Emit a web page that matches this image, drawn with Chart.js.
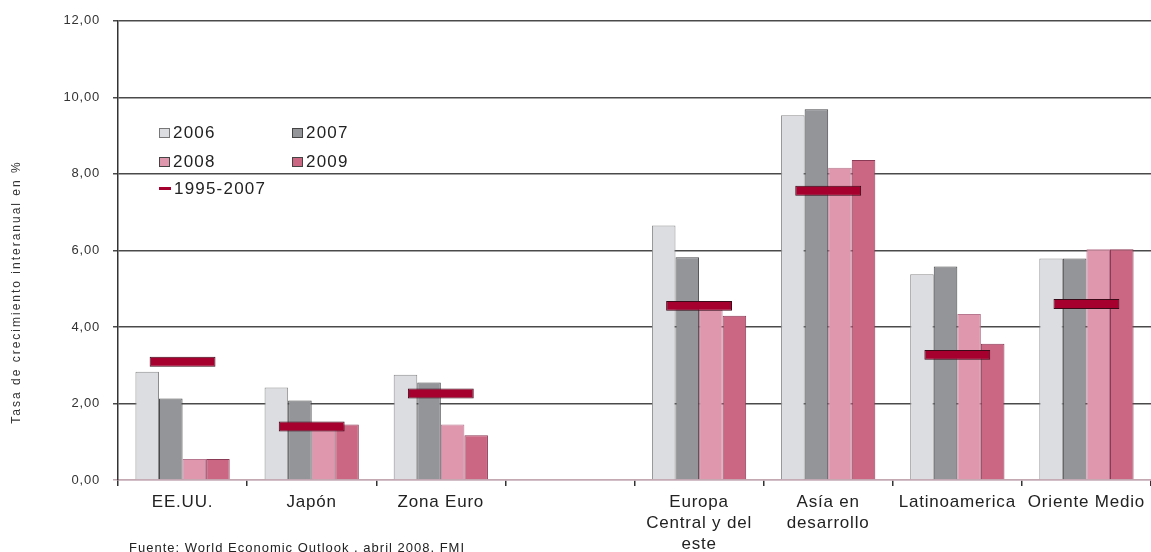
<!DOCTYPE html>
<html>
<head>
<meta charset="utf-8">
<script src="https://cdn.jsdelivr.net/npm/chart.js@4.4.1/dist/chart.umd.min.js"></script>
<style>
html,body{margin:0;padding:0;background:#fff;overflow:hidden;}
#wrap{position:relative;width:1151px;height:552px;}
#c{position:absolute;left:0;top:0;}
.lg{position:absolute;display:flex;align-items:center;height:17px;line-height:17px;font-size:17px;font-family:"Liberation Sans",Arial,sans-serif;letter-spacing:1.2px;color:#222;white-space:nowrap;}
.sw{display:inline-block;width:11px;height:10px;box-sizing:border-box;margin-right:3px;}
.ln{display:inline-block;width:12px;height:3px;margin-right:3px;}
#foot{position:absolute;left:129px;top:541px;font-size:13px;line-height:13px;font-family:"Liberation Sans",Arial,sans-serif;letter-spacing:1px;color:#222;white-space:nowrap;}
</style>
</head>
<body>
<div id="wrap">
<canvas id="c" width="1151" height="552"></canvas>
<div id="legend"></div>
<div id="foot">Fuente: World Economic Outlook , abril 2008, FMI</div>
</div>
<script>
// ---- data ----
const categories = ['EE.UU.', 'Japón', 'Zona Euro', '', ['Europa', 'Central y del', 'este'], ['Asía en', 'desarrollo'], 'Latinoamerica', 'Oriente Medio'];
const yearLabels = ['2006', '2007', '2008', '2009'];
const values2006 = [2.83, 2.42, 2.75, null, 6.65, 9.53, 5.38, 5.79];
const values2007 = [2.13, 2.08, 2.55, null, 5.82, 9.69, 5.58, 5.79];
const values2008 = [0.55, 1.45, 1.45, null, 4.45, 8.16, 4.34, 6.03];
const values2009 = [0.55, 1.45, 1.17, null, 4.29, 8.36, 3.56, 6.03];
const avgLabel = '1995-2007';
const avg1995_2007 = [3.09, 1.40, 2.26, null, 4.55, 7.56, 3.27, 4.60];
const yTickLabels = ['0,00', '2,00', '4,00', '6,00', '8,00', '10,00', '12,00'];
const yTitle = 'Tasa de crecimiento interanual en %';

// ---- styles ----
const FONT = '"Liberation Sans", Arial, sans-serif';
const fills = ['#dcdde0', '#939598', '#df97ad', '#cc6783'];
const borders = ['#8c8c8e', '#4a4a4c', '#b87890', '#8a3a55'];
const markerFill = '#a6002f';
const markerBorder = '#3a0a18';
const markerHalfThickness = 0.13;

const yearSeries = [values2006, values2007, values2008, values2009];
const datasets = yearSeries.map((vals, i) => ({
  label: yearLabels[i],
  data: vals,
  backgroundColor: fills[i],
  borderColor: borders[i],
  borderWidth: 1,
  categoryPercentage: 0.73,
  barPercentage: 1.0,
  order: 1
}));
datasets.push({
  label: avgLabel,
  data: avg1995_2007.map(v => v == null ? null : [v - markerHalfThickness, v + markerHalfThickness]),
  backgroundColor: markerFill,
  borderColor: markerBorder,
  borderWidth: 1,
  borderSkipped: false,
  grouped: false,
  categoryPercentage: 1.0,
  barPercentage: 0.51,
  order: -1
});

const spacingPlugin = {
  id: 'spacing',
  beforeDraw(chart) { chart.ctx.letterSpacing = '0.8px'; },
  afterDraw(chart) {
    const ctx = chart.ctx;
    ctx.save();
    ctx.letterSpacing = '2px';
    ctx.font = '12px ' + FONT;
    ctx.fillStyle = '#333';
    ctx.translate(17, 292);
    ctx.rotate(-Math.PI / 2);
    ctx.textAlign = 'center';
    ctx.textBaseline = 'middle';
    ctx.fillText(yTitle, 0, 0);
    ctx.restore();
  }
};

const chart = new Chart(document.getElementById('c'), {
  type: 'bar',
  data: { labels: categories, datasets },
  options: {
    responsive: false,
    animation: false,
    layout: { padding: { top: 18, right: 0, left: 0, bottom: 0 } },
    plugins: { legend: { display: false }, tooltip: { enabled: false } },
    scales: {
      x: {
        ticks: { color: '#222', font: { size: 17, family: FONT, lineHeight: 1.23 }, padding: 6, maxRotation: 0, autoSkip: false },
        grid: { drawOnChartArea: false, drawTicks: true, tickLength: 6, color: '#333', lineWidth: 1.5 },
        border: { color: '#c4a9b3', width: 1.5 },
        afterFit(s) { s.height = 72; }
      },
      y: {
        min: 0, max: 12,
        ticks: { stepSize: 2, padding: 13, color: '#333', font: { size: 13, family: FONT }, callback: (v, i) => yTickLabels[i] },
        grid: { color: c => (c.tick && c.tick.value === 0) ? '#c4a9b3' : '#4a4a4a', lineWidth: 1.5, tickLength: 5 },
        border: { color: '#333', width: 1.5 },
        afterFit(s) { s.width = 118; }
      }
    }
  },
  plugins: [spacingPlugin]
});

// ---- legend (HTML) ----
const legendPos = [
  { left: 159, top: 124 }, { left: 292, top: 124 },
  { left: 159, top: 153 }, { left: 292, top: 153 },
  { left: 159, top: 180 }
];
const lg = document.getElementById('legend');
chart.data.datasets.forEach((ds, i) => {
  const d = document.createElement('div');
  d.className = 'lg';
  d.style.left = legendPos[i].left + 'px';
  d.style.top = legendPos[i].top + 'px';
  const mk = document.createElement('span');
  if (i < 4) {
    mk.className = 'sw';
    mk.style.background = ds.backgroundColor;
    mk.style.border = '1px solid ' + (i === 0 ? '#777' : '#444');
  } else {
    mk.className = 'ln';
    mk.style.background = ds.backgroundColor;
  }
  d.appendChild(mk);
  const t = document.createElement('span');
  t.textContent = ds.label;
  d.appendChild(t);
  lg.appendChild(d);
});
</script>
</body>
</html>
